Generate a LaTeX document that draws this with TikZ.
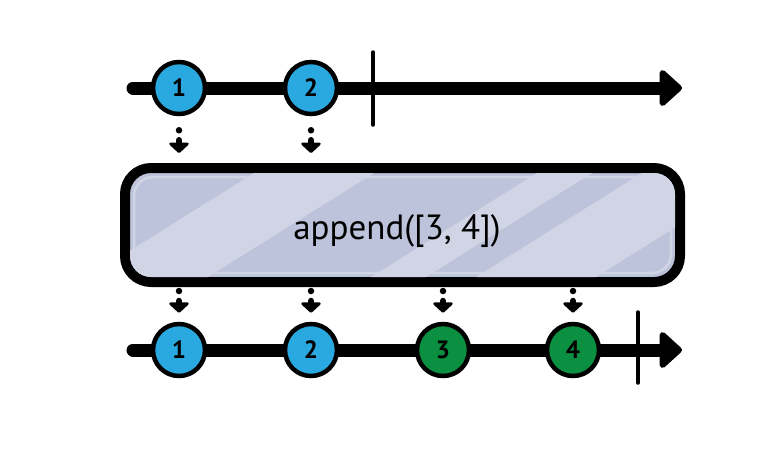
\documentclass[tikz,border=0pt]{standalone}
\usepackage{fontspec}
\setmainfont{PT Sans}
\usetikzlibrary{arrows.meta}
\definecolor{marbleblue}{HTML}{29A9E0}
\definecolor{marblegreen}{HTML}{0B8F40}
\definecolor{opfill}{HTML}{BDC3DA}
\definecolor{opstripe}{HTML}{D0D4E4}
\tikzset{
  timeline/.style={line width=13pt, line cap=round,
    -{Triangle[length=24pt,width=42pt,round]}},
  endtick/.style={line width=3.5pt, line cap=round},
  marble/.style={circle, draw=black, line width=4.5pt, minimum size=52pt,
    inner sep=0pt, font=\fontsize{25}{25}\selectfont\bfseries},
  opbox/.style={draw=black, line width=10pt, fill=opfill,
    rounded corners=26pt, minimum width=555pt, minimum height=114pt},
  feed/.style={line width=6.5pt, line cap=round,
    dash pattern=on 0pt off 10pt on 40pt,
    -{Triangle[length=11pt,width=23pt,round]}},
}

\begin{document}
\begin{tikzpicture}[x=1pt,y=-1pt]
  \useasboundingbox (0,0) rectangle (774,459);

  % source stream
  \coordinate (in start) at (133,88);
  \coordinate (in end) at (682,88);
  \draw[timeline] (in start) -- (in end);
  \draw[endtick] (373,52) -- (373,125);
  \node[marble, fill=marbleblue] (in1) at (179,88) {1};
  \node[marble, fill=marbleblue] (in2) at (311,88) {2};

  % operator
  \node[opbox] (op) at (402.5,225) {};
  \begin{scope}
    \clip[rounded corners=21pt] (130,173) rectangle (675,277);
    \fill[opstripe] (262,168) -- (382,168) -- (200,282) -- (80,282) -- cycle;
    \fill[opstripe] (545,168) -- (600,168) -- (418,282) -- (363,282) -- cycle;
    \fill[opstripe] (650,168) -- (770,168) -- (588,282) -- (468,282) -- cycle;
    \draw[opstripe, line width=2.5pt, rounded corners=19pt]
      (134,177) rectangle (671,273);
  \end{scope}
  \node[font=\fontsize{35}{35}\selectfont] (op label) at (397,231) {append([3, 4])};

  % result stream
  \coordinate (out start) at (133,350);
  \coordinate (out end) at (682,350);
  \draw[timeline] (out start) -- (out end);
  \draw[endtick] (638,312) -- (638,383);
  \node[marble, fill=marbleblue] (out1) at (179,350) {1};
  \node[marble, fill=marbleblue] (out2) at (311,350) {2};
  \node[marble, fill=marblegreen] (out3) at (443,350) {3};
  \node[marble, fill=marblegreen] (out4) at (573,350) {4};

  % arrows into and out of the operator
  \foreach \m in {in1,in2}
    \draw[feed, shorten <=14pt, shorten >=10pt] (\m.south) -- (\m.south |- op.north);
  \foreach \m in {out1,out2,out3,out4}
    \draw[feed, shorten <=4pt, shorten >=9pt] (op.south -| \m) -- (\m.north);
\end{tikzpicture}
\end{document}
